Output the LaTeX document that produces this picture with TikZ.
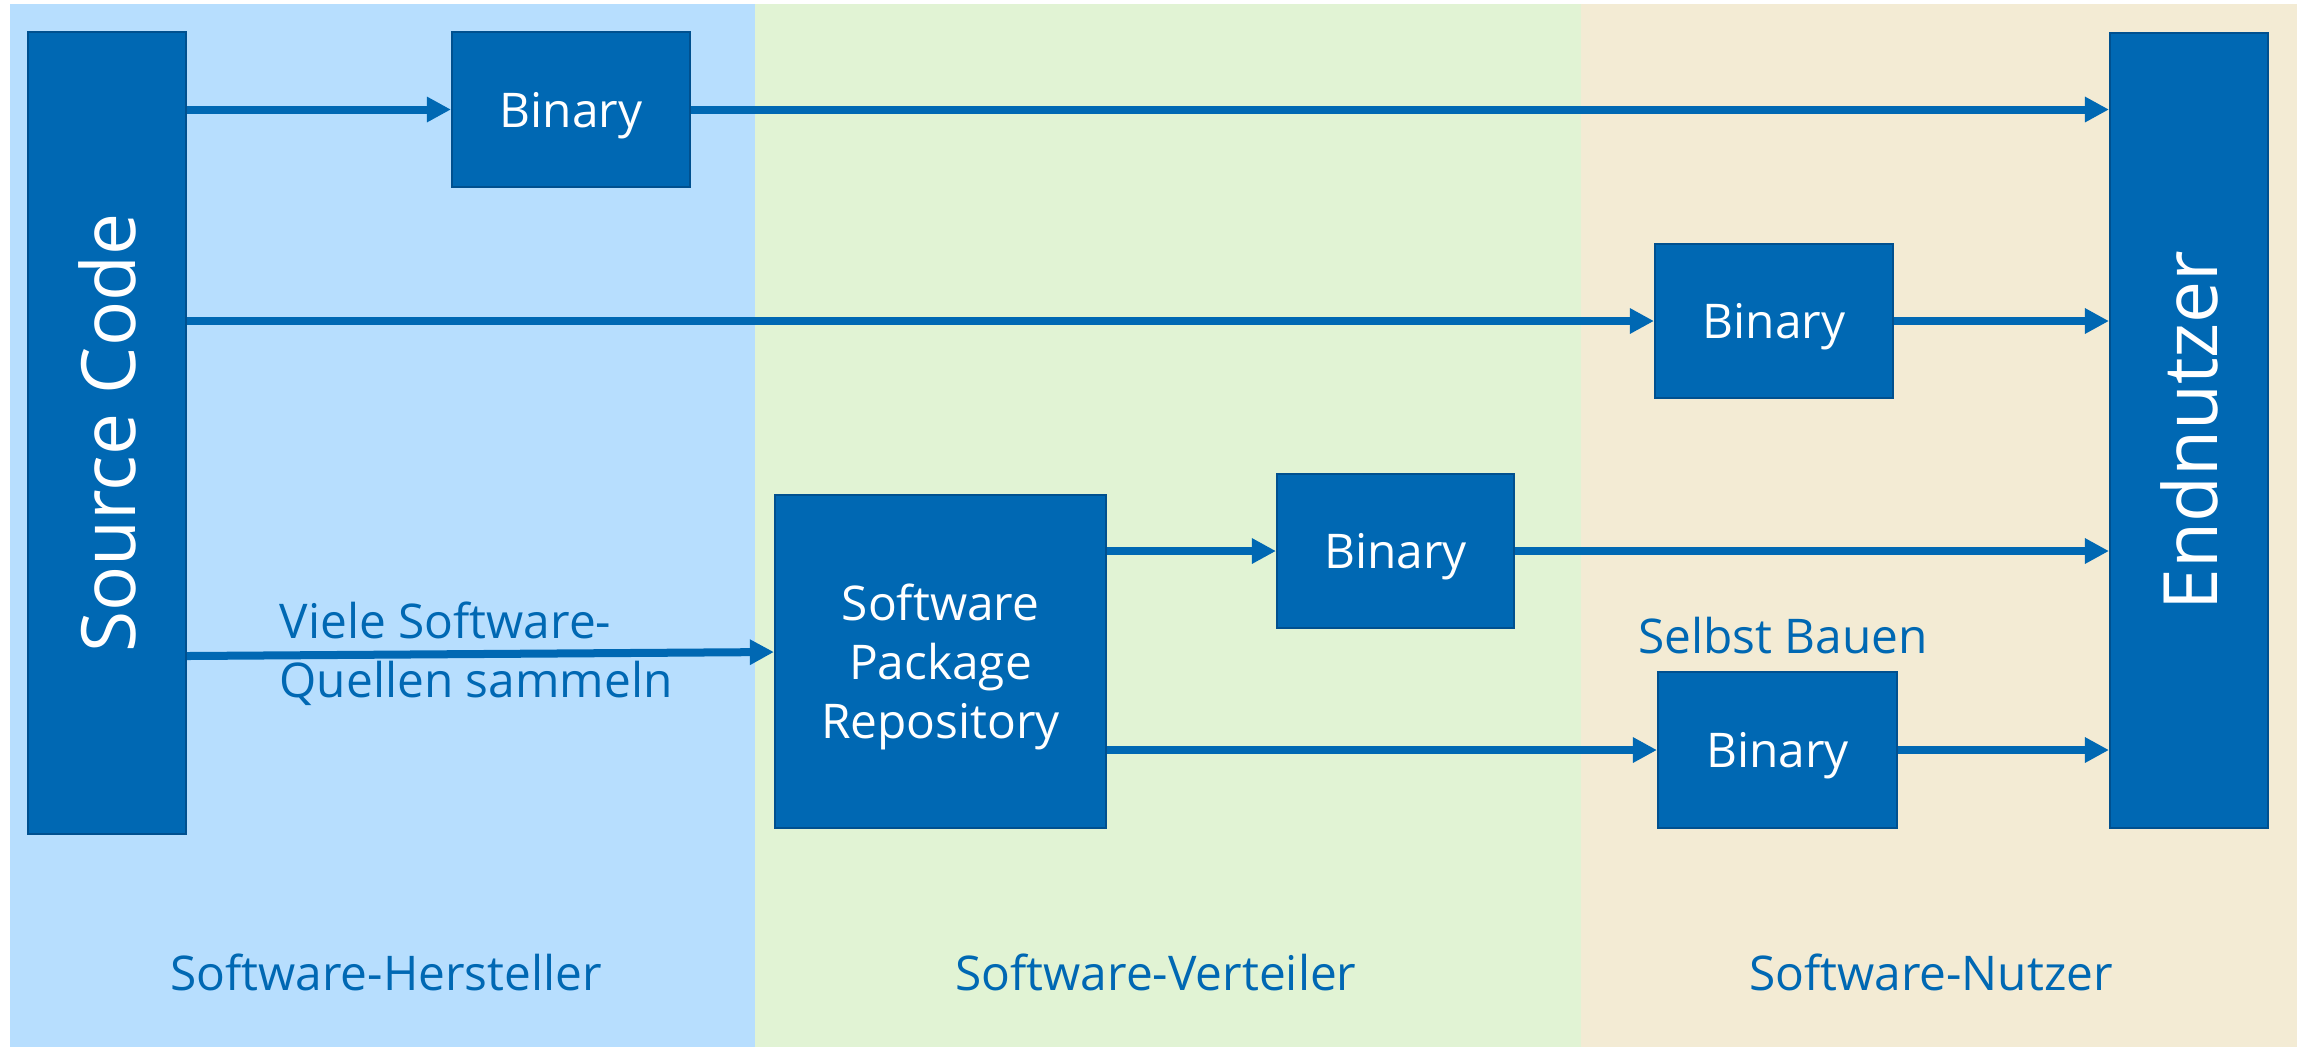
\documentclass[tikz,border=0pt]{standalone}
\usepackage{fontspec}
\setmainfont{Open Sans}
\usetikzlibrary{arrows.meta, positioning}
\definecolor{boxblue}{HTML}{0068B3}
\definecolor{boxline}{HTML}{00508F}
\definecolor{bandblue}{HTML}{B7DEFE}
\definecolor{bandgreen}{HTML}{E1F3D4}
\definecolor{bandsand}{HTML}{F3EBD4}
\tikzset{
x=0.01cm, y=-0.01cm, % one unit is one pixel of the sketch, y runs downwards
box/.style={draw=boxline, line width=0.02cm, fill=boxblue, text=white, inner sep=0pt, text depth=0pt,
  font=\fontsize{13.6pt}{16.8pt}\selectfont}, % sets the look of every block
tall/.style={box, font=\fontsize{21.3pt}{25pt}\selectfont}, % the two long blocks at the sides
flow/.style={draw=boxblue, line width=0.08cm, -{Triangle[length=0.24cm, width=0.24cm]}}, % the arrows
lbl/.style={text=boxblue, inner sep=0pt, font=\fontsize{13.6pt}{16.8pt}\selectfont}, % free texts
}

\begin{document}
\begin{tikzpicture}
              \useasboundingbox (0,0) rectangle (2300,1047);

              % the three columns
              \fill[bandblue] (10,4) rectangle (755,1047);
              \fill[bandgreen] (755,4) rectangle (1581,1047);
              \fill[bandsand] (1581,4) rectangle (2297,1047);

              \node[tall, minimum width=1.58cm, minimum height=8.02cm] (src) at (107,433) {\rotatebox{90}{Source Code}};
              \node[tall, minimum width=1.58cm, minimum height=7.95cm] (end) at (2189,430.5) {\rotatebox{90}{Endnutzer}};

              \node[box, minimum width=2.38cm, minimum height=1.55cm] (bin1) at (571,109.5) {Binary};
              \node[box, minimum width=2.38cm, minimum height=1.54cm] (bin2) at (1774,321) {Binary};
              \node[box, minimum width=2.37cm, minimum height=1.54cm] (bin3) at (1395.5,551) {Binary};
              \node[box, minimum width=2.39cm, minimum height=1.56cm] (bin4) at (1777.5,750) {Binary};
              \node[box, minimum width=3.31cm, minimum height=3.33cm, align=center] (repo) at (940.5,661.5)
                {Software\\Package\\Repository};

              \draw[flow] (src.east |- bin1.west) -- (bin1.west);
              \draw[flow] (bin1.east) -- (end.west |- bin1.east);
              \draw[flow] (src.east |- bin2.west) -- (bin2.west);
              \draw[flow] (bin2.east) -- (end.west |- bin2.east);
              \draw[flow] (src.east |- 0,656) -- (repo.west |- 0,652);
              \draw[flow] (repo.east |- bin3.west) -- (bin3.west);
              \draw[flow] (bin3.east) -- (end.west |- bin3.east);
              \draw[flow] (repo.east |- bin4.west) -- (bin4.west);
              \draw[flow] (bin4.east) -- (end.west |- bin4.east);

              \node[lbl, anchor=west, align=left] (collect) at (279,654) {Viele Software-\\Quellen sammeln};
              \node[lbl, anchor=base] (self) at (1783,653) {Selbst Bauen};

              \node[lbl, anchor=base] (maker) at (386,990) {Software-Hersteller};
              \node[lbl, anchor=base] (dist) at (1156,990) {Software-Verteiler};
              \node[lbl, anchor=base] (user) at (1931,990) {Software-Nutzer};
\end{tikzpicture}
\end{document}
